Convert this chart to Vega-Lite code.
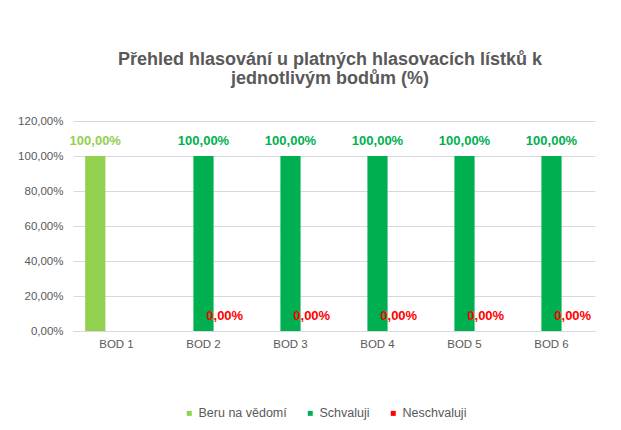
{
  "$schema": "https://vega.github.io/schema/vega-lite/v6.json",
  "width": 522,
  "height": 210,
  "autosize": {"type": "none"},
  "padding": {"left": 73, "top": 121, "right": 26, "bottom": 99},
  "background": "white",
  "config": {
    "locale": {"number": {"decimal": ",", "thousands": " ", "grouping": [3], "currency": ["", " Kč"]}},
    "view": {"stroke": null},
    "font": "Liberation Sans"
  },
  "title": {
    "text": ["Přehled hlasování u platných hlasovacích lístků k", "jednotlivým bodům (%)"],
    "fontSize": 18,
    "fontWeight": "bold",
    "color": "#595959",
    "lineHeight": 19,
    "offset": 27,
    "anchor": "middle",
    "dx": -4
  },
  "data": {
    "values": [
      {"bod": "BOD 1", "serie": "Beru na vědomí", "hodnota": 1},
      {"bod": "BOD 2", "serie": "Schvaluji", "hodnota": 1},
      {"bod": "BOD 2", "serie": "Neschvaluji", "hodnota": 0},
      {"bod": "BOD 3", "serie": "Schvaluji", "hodnota": 1},
      {"bod": "BOD 3", "serie": "Neschvaluji", "hodnota": 0},
      {"bod": "BOD 4", "serie": "Schvaluji", "hodnota": 1},
      {"bod": "BOD 4", "serie": "Neschvaluji", "hodnota": 0},
      {"bod": "BOD 5", "serie": "Schvaluji", "hodnota": 1},
      {"bod": "BOD 5", "serie": "Neschvaluji", "hodnota": 0},
      {"bod": "BOD 6", "serie": "Schvaluji", "hodnota": 1},
      {"bod": "BOD 6", "serie": "Neschvaluji", "hodnota": 0}
    ]
  },
  "encoding": {
    "x": {
      "field": "bod",
      "type": "nominal",
      "sort": ["BOD 1", "BOD 2", "BOD 3", "BOD 4", "BOD 5", "BOD 6"],
      "scale": {"paddingInner": 0.28, "paddingOuter": 0.14},
      "axis": {
        "title": null,
        "labelAngle": 0,
        "labelColor": "#595959",
        "labelFontSize": 11.5,
        "labelPadding": 7,
        "ticks": false,
        "domainColor": "#D9D9D9",
        "grid": false
      }
    },
    "xOffset": {
      "field": "serie",
      "type": "nominal",
      "scale": {"domain": ["Beru na vědomí", "Schvaluji", "Neschvaluji"], "paddingInner": 0.05}
    },
    "y": {
      "field": "hodnota",
      "type": "quantitative",
      "scale": {"domain": [0, 1.2]},
      "axis": {
        "title": null,
        "format": ".2%",
        "values": [0, 0.2, 0.4, 0.6, 0.8, 1, 1.2],
        "labelOverlap": false,
        "labelColor": "#595959",
        "labelFontSize": 11.5,
        "labelPadding": 10,
        "ticks": false,
        "domain": false,
        "gridColor": "#D9D9D9"
      }
    },
    "color": {
      "field": "serie",
      "type": "nominal",
      "scale": {"domain": ["Beru na vědomí", "Schvaluji", "Neschvaluji"], "range": ["#92D050", "#00B050", "#FF0000"]},
      "legend": {
        "title": null,
        "orient": "none",
        "legendX": 110,
        "legendY": 286,
        "direction": "horizontal",
        "symbolType": "square",
        "symbolSize": 25,
        "labelColor": "#595959",
        "labelFontSize": 12.5,
        "columnPadding": 17,
        "labelOffset": 3
      }
    }
  },
  "layer": [
    {"mark": {"type": "bar"}},
    {
      "mark": {"type": "text", "baseline": "middle", "dy": -15, "fontSize": 13, "fontWeight": "bold"},
      "encoding": {
        "text": {"field": "hodnota", "type": "quantitative", "format": ".2%"}
      }
    }
  ]
}
